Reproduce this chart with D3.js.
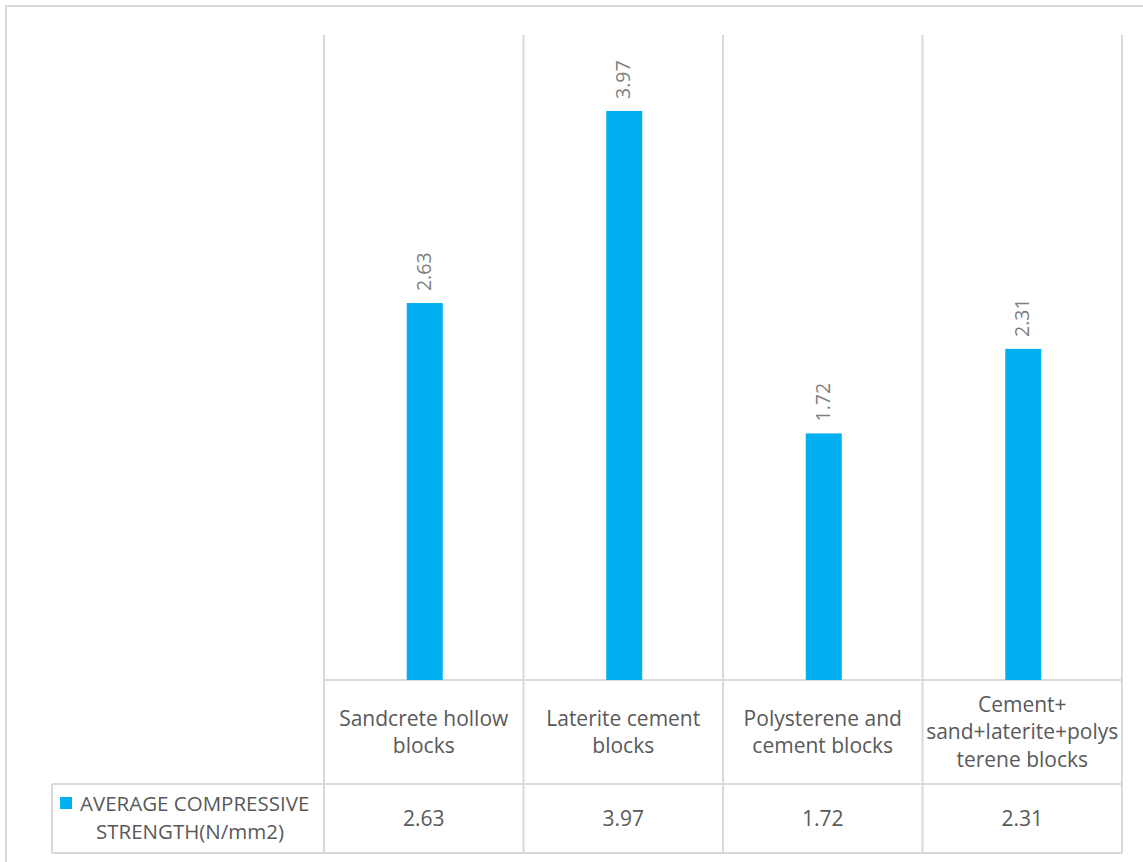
<!DOCTYPE html>
<html>
<head>
<meta charset="utf-8">
<script src="https://cdn.jsdelivr.net/npm/d3@7"></script>
<style>
  body { margin: 0; background: #fff; }
  text { font-family: "Open Sans", "Lato", sans-serif; fill: #595959; }
</style>
</head>
<body>
<script>
var categories = [
  ["Sandcrete hollow", "blocks"],
  ["Laterite cement", "blocks"],
  ["Polysterene and", "cement blocks"],
  ["Cement+", "sand+laterite+polys", "terene blocks"]
];
var values = [2.63, 3.97, 1.72, 2.31];
var valueLabels = ["2.63", "3.97", "1.72", "2.31"];
var seriesName = ["AVERAGE COMPRESSIVE", "STRENGTH(N/mm2)"];
var yMax = 4.5;

var W = 1143, H = 862;
var gridColor = "#d9d9d9", barColor = "#00b0f0";

var plot = {left: 324, right: 1122, top: 35, bottom: 680};
var rowCat = 784, rowVal = 853, legendLeft = 52;

var svg = d3.select("body").append("svg")
    .attr("width", W)
    .attr("height", H);

// Outer chart border (right and bottom run off the picture)
svg.append("rect")
    .attr("x", 6).attr("y", 6)
    .attr("width", W + 20).attr("height", H + 20)
    .attr("fill", "none")
    .attr("stroke", gridColor)
    .attr("stroke-width", 2);

var x = d3.scaleBand()
    .domain(d3.range(values.length))
    .range([plot.left, plot.right]);

var y = d3.scaleLinear()
    .domain([0, yMax])
    .range([plot.bottom, plot.top]);

var barW = 36;

// Category separators, run through the data table
var edges = d3.range(values.length + 1).map(function(i) {
    return i < values.length ? x(i) : plot.right;
});
svg.selectAll("line.sep")
        .data(edges)
    .enter().append("line")
        .attr("class", "sep")
        .attr("x1", function(d) { return d; })
        .attr("x2", function(d) { return d; })
        .attr("y1", plot.top)
        .attr("y2", rowVal)
        .attr("stroke", gridColor)
        .attr("stroke-width", 2);

// Table horizontal lines
var hLines = [
    {y: plot.bottom, x1: plot.left},
    {y: rowCat, x1: legendLeft},
    {y: rowVal, x1: legendLeft}
];
svg.selectAll("line.row")
        .data(hLines)
    .enter().append("line")
        .attr("class", "row")
        .attr("x1", function(d) { return d.x1; })
        .attr("x2", plot.right)
        .attr("y1", function(d) { return d.y; })
        .attr("y2", function(d) { return d.y; })
        .attr("stroke", gridColor)
        .attr("stroke-width", 2);

svg.append("line")
    .attr("x1", legendLeft).attr("x2", legendLeft)
    .attr("y1", rowCat).attr("y2", rowVal)
    .attr("stroke", gridColor)
    .attr("stroke-width", 2);

// Bars
svg.selectAll("rect.bar")
        .data(values)
    .enter().append("rect")
        .attr("class", "bar")
        .attr("x", function(d, i) { return x(i) + x.bandwidth() / 2 - barW / 2 + 1; })
        .attr("y", function(d) { return y(d); })
        .attr("width", barW)
        .attr("height", function(d) { return y(0) - y(d); })
        .attr("fill", barColor);

// Rotated value labels
svg.selectAll("text.val")
        .data(values)
    .enter().append("text")
        .attr("class", "val")
        .attr("transform", function(d, i) {
            return "translate(" + (x(i) + x.bandwidth() / 2 + 7) + "," + (y(d) - 12) + ") rotate(-90)";
        })
        .attr("font-size", 19.5)
        .style("fill", "#7f7f7f")
        .text(function(d, i) { return valueLabels[i]; });

// Category row of the table
var catG = svg.selectAll("g.cat")
        .data(categories)
    .enter().append("g")
        .attr("class", "cat");

catG.each(function(lines, i) {
    var cy = (plot.bottom + rowCat) / 2;
    var lh = 27.5;
    var y0 = cy - (lines.length - 1) * lh / 2;
    d3.select(this).selectAll("text")
        .data(lines)
      .enter().append("text")
        .attr("x", x(i) + x.bandwidth() / 2)
        .attr("y", function(d, j) { return y0 + j * lh; })
        .attr("dy", "0.35em")
        .attr("text-anchor", "middle")
        .attr("font-size", 21)
        .text(function(d) { return d; });
});

// Value row of the table
svg.selectAll("text.cell")
        .data(valueLabels)
    .enter().append("text")
        .attr("class", "cell")
        .attr("x", function(d, i) { return x(i) + x.bandwidth() / 2; })
        .attr("y", (rowCat + rowVal) / 2)
        .attr("dy", "0.35em")
        .attr("text-anchor", "middle")
        .attr("font-size", 21)
        .text(function(d) { return d; });

// Legend cell
svg.append("rect")
    .attr("x", 60).attr("y", 797)
    .attr("width", 12).attr("height", 12)
    .attr("fill", barColor);

svg.selectAll("text.leg")
        .data(seriesName)
    .enter().append("text")
        .attr("class", "leg")
        .attr("x", function(d, i) { return i === 0 ? 80 : 190; })
        .attr("y", function(d, i) { return 804 + i * 28; })
        .attr("dy", "0.35em")
        .attr("text-anchor", function(d, i) { return i === 0 ? "start" : "middle"; })
        .attr("font-size", 20.5)
        .text(function(d) { return d; });
</script>
</body>
</html>
